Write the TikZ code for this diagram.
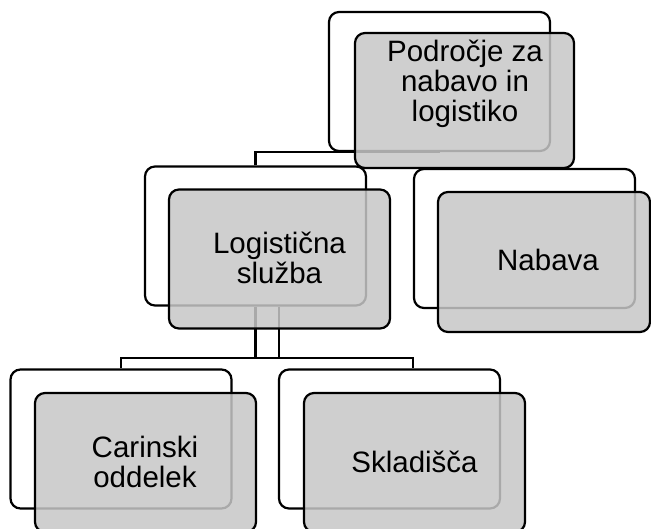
\documentclass[tikz,border=0pt]{standalone}
\usepackage{fontspec}
\setmainfont{Liberation Sans}
\usetikzlibrary{calc}
\begin{document}
\begin{tikzpicture}[x=1pt, y=-1pt,
  frame/.style={draw=black, line width=2.2pt, rounded corners=10pt, inner sep=0pt},
  backbox/.style={frame, fill=white, minimum width=221pt, minimum height=139pt},
  frontbox/.style={frame, fill=black!22, fill opacity=0.85, minimum width=221pt, minimum height=139pt},
  link/.style={draw=black, line width=2.2pt},
  label/.style={font=\fontsize{29.5}{30}\selectfont, align=center, inner sep=0pt, text=black}
]
\useasboundingbox (0,0) rectangle (651,528);

% back (white) cards
\node[backbox] (tw) at (439.5,81.5) {};
\node[backbox] (lw) at (255.5,236) {};
\node[backbox] (nw) at (524.5,238.5) {};
\node[backbox] (cw) at (121,439) {};
\node[backbox] (sw) at (389.5,439) {};

% connectors
\draw[link] (lw.north) -- (lw.north |- tw.south) -- (tw.south);
\draw[link] ($(nw.north)+(14.5,0)$ |- tw.south) -- ($(nw.north)+(14.5,0)$);
\draw[link] (lw.south) -- ($(lw.south)+(0,51)$) -| ($(sw.north)+(23.5,0)$);
\draw[link] ($(lw.south)+(23.5,0)$) -- ($(lw.south)+(23.5,51)$) -| (cw.north);

% front (grey) cards
\node[frontbox, minimum width=219pt, minimum height=135pt] (tg) at (464.5,100.5) {};
\node[frontbox] (lg) at (279.5,259) {};
\node[frontbox, minimum width=212pt, minimum height=140pt] (ng) at (544,262) {};
\node[frontbox] (cg) at (145.5,462.5) {};
\node[frontbox] (sg) at (414.5,462.5) {};

% labels
\node[label] (tt) at (465,84) {Področje za\\nabavo in\\logistiko};
\node[label] (lt) at (279.5,258) {Logistična\\služba};
\node[label] (nt) at (548,260) {Nabava};
\node[label] (ct) at (145,462) {Carinski\\oddelek};
\node[label] (st) at (414.5,462) {Skladišča};
\end{tikzpicture}
\end{document}
